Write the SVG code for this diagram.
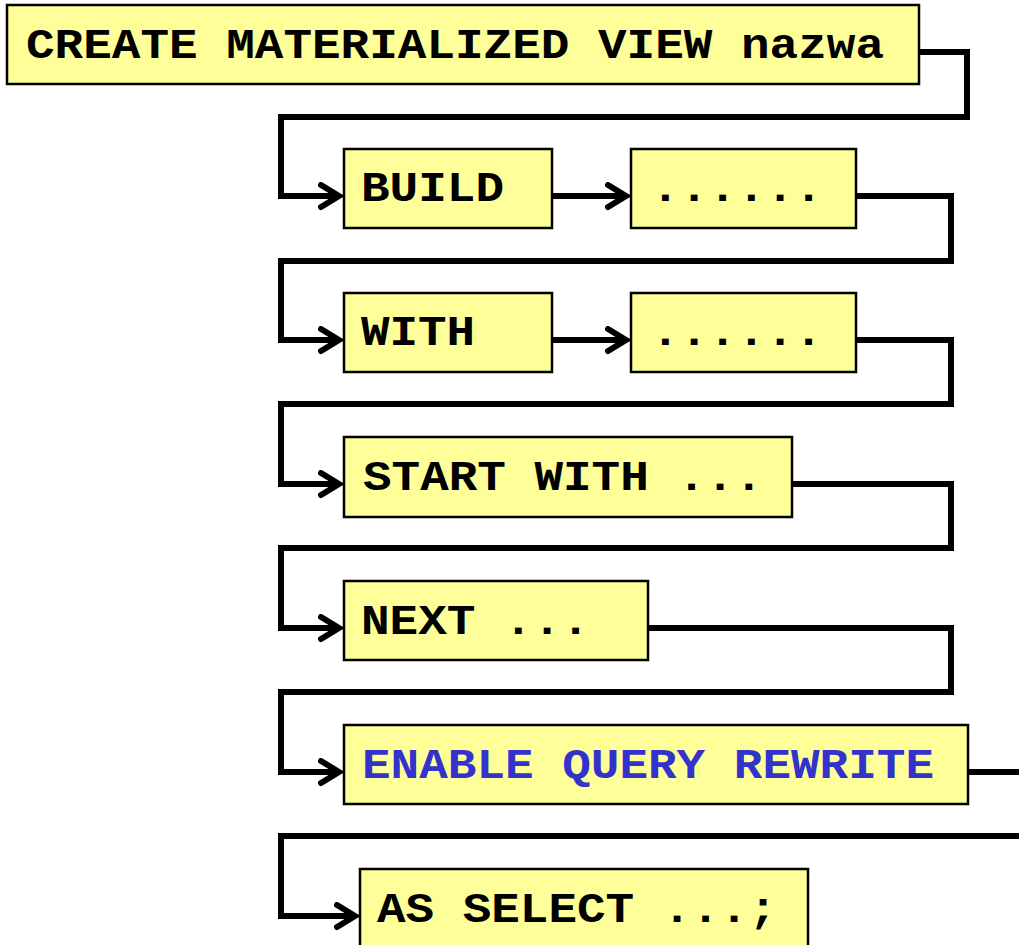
<svg xmlns="http://www.w3.org/2000/svg" width="1019" height="945" viewBox="0 0 1019 945">
  <style>
    .box { fill: #FFFF99; stroke: #000; stroke-width: 2.5; }
    .kw { font-family: "Liberation Mono", "Courier New", monospace; font-weight: bold; font-size: 42px; fill: #000; }
    .blue { fill: #3333CC; }
    .wire { fill: none; stroke: #000; stroke-width: 6; stroke-linejoin: miter; }
  </style>
  <defs>
    <marker id="chev" markerUnits="userSpaceOnUse" markerWidth="32" markerHeight="32" refX="24" refY="14" orient="auto">
      <polyline points="5,3 23,14 5,25" fill="none" stroke="#000" stroke-width="6" stroke-linecap="round" stroke-linejoin="miter"/>
    </marker>
  </defs>
  <rect width="1019" height="945" fill="#fff"/>

  <g id="connectors">
    <path class="wire" d="M919,52 H967 V117 H281 V196 H340" marker-end="url(#chev)"/>
    <path class="wire" d="M552,196 H627" marker-end="url(#chev)"/>
    <path class="wire" d="M856,196 H951 V261 H281 V340 H340" marker-end="url(#chev)"/>
    <path class="wire" d="M552,340 H627" marker-end="url(#chev)"/>
    <path class="wire" d="M856,340 H951 V404 H281 V484 H340" marker-end="url(#chev)"/>
    <path class="wire" d="M792,484 H951 V548 H281 V628 H340" marker-end="url(#chev)"/>
    <path class="wire" d="M648,628 H951 V692 H281 V772 H340" marker-end="url(#chev)"/>
    <path class="wire" d="M968,772 H1019"/>
    <path class="wire" d="M1019,836 H281 V916 H356" marker-end="url(#chev)"/>
  </g>

  <g id="create">
    <rect class="box" x="7" y="5" width="912" height="79"/>
    <text class="kw" x="26" y="58" textLength="858" lengthAdjust="spacingAndGlyphs">CREATE MATERIALIZED VIEW nazwa</text>
  </g>
  <g id="build">
    <rect class="box" x="344" y="149" width="208" height="79"/>
    <text class="kw" x="361" y="201" textLength="143" lengthAdjust="spacingAndGlyphs">BUILD</text>
  </g>
  <g id="build-opt">
    <rect class="box" x="631" y="149" width="225" height="79"/>
    <text class="kw" x="651" y="201" textLength="172" lengthAdjust="spacingAndGlyphs">......</text>
  </g>
  <g id="with">
    <rect class="box" x="344" y="293" width="208" height="79"/>
    <text class="kw" x="361" y="345" textLength="114" lengthAdjust="spacingAndGlyphs">WITH</text>
  </g>
  <g id="with-opt">
    <rect class="box" x="631" y="293" width="225" height="79"/>
    <text class="kw" x="651" y="345" textLength="172" lengthAdjust="spacingAndGlyphs">......</text>
  </g>
  <g id="start-with">
    <rect class="box" x="344" y="437" width="448" height="80"/>
    <text class="kw" x="363" y="490" textLength="400" lengthAdjust="spacingAndGlyphs">START WITH ...</text>
  </g>
  <g id="next">
    <rect class="box" x="344" y="581" width="304" height="79"/>
    <text class="kw" x="361" y="634" textLength="229" lengthAdjust="spacingAndGlyphs">NEXT ...</text>
  </g>
  <g id="enable-query-rewrite">
    <rect class="box" x="344" y="725" width="624" height="79"/>
    <text class="kw blue" x="362" y="778" textLength="572" lengthAdjust="spacingAndGlyphs">ENABLE QUERY REWRITE</text>
  </g>
  <g id="as-select">
    <rect class="box" x="360" y="869" width="448" height="90"/>
    <text class="kw" x="377" y="922" textLength="400" lengthAdjust="spacingAndGlyphs">AS SELECT ...;</text>
  </g>
</svg>
